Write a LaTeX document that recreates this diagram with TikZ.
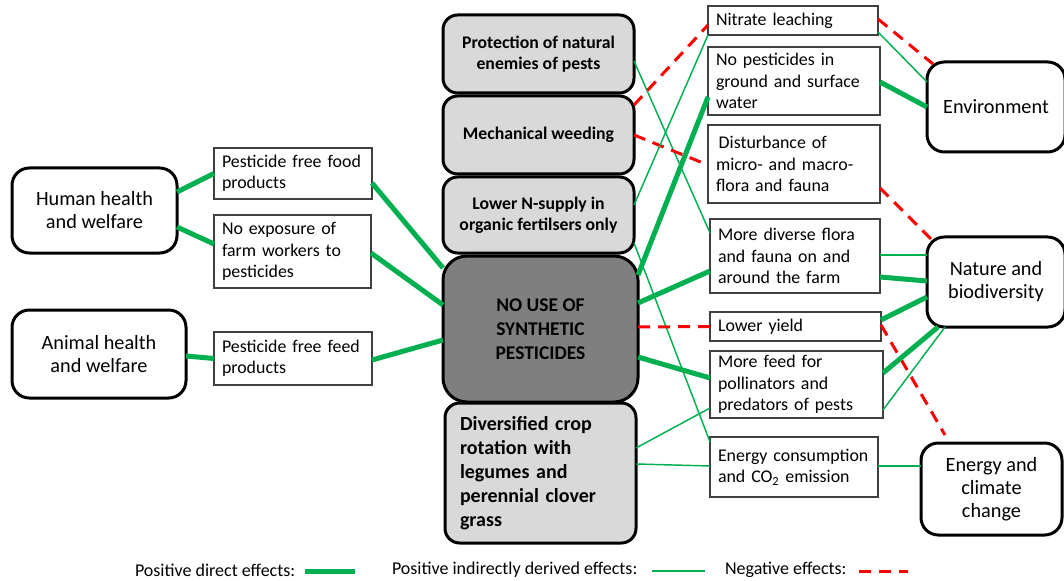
\documentclass[tikz,border=0pt]{standalone}
\usepackage{fontspec}
\setmainfont{Carlito}
\usetikzlibrary{calc}
\definecolor{grn}{HTML}{00B050}
\definecolor{lgray}{HTML}{D9D9D9}
\definecolor{dgray}{HTML}{7F7F7F}
\definecolor{bord}{HTML}{404040}
\begin{document}
\begin{tikzpicture}[x=0.75pt,y=-0.75pt,
  outer sep=0pt,
  rbox/.style={draw=black, line width=2.25pt, rounded corners=13pt, fill=white, align=center, inner sep=0pt,
    font=\fontsize{15.2}{17.25}\selectfont},
  mbox/.style={draw=black, line width=2.25pt, rounded corners=11pt, fill=lgray, align=center, inner sep=0pt,
    font=\fontsize{13.3}{15.75}\selectfont\bfseries},
  sbox/.style={draw=bord, line width=1pt, fill=white, align=left, inner xsep=6pt, inner ysep=0pt,
    font=\fontsize{13.4}{16}\selectfont},
  direct/.style={draw=grn, line width=3.75pt},
  indirect/.style={draw=grn, line width=1.1pt},
  neg/.style={draw=red, line width=2.25pt, dash pattern=on 9pt off 6pt},
  legtext/.style={anchor=west, inner sep=0pt, font=\fontsize{13.5}{15}\selectfont}
]
\useasboundingbox (0,0) rectangle (1064,581);

% far left
\node[rbox, minimum width=123.75pt, minimum height=63.75pt] (human) at (94.5,210.5) {Human health\\and welfare};
\node[rbox, minimum width=130.5pt, minimum height=66pt] (animal) at (99,354) {Animal health\\and welfare};

% left boxes
\node[sbox, text width=106.5pt, minimum height=38.25pt] (food) at (293,173.5) {Pesticide free food\\products};
\node[sbox, text width=105.75pt, minimum height=54.75pt] (expo) at (292.5,251.5) {No exposure of\\farm workers to\\pesticides};
\node[sbox, text width=106.5pt, minimum height=39.75pt] (feed) at (293,358.5) {Pesticide free feed\\products};

% middle column
\node[mbox, minimum width=143.25pt, minimum height=58.5pt] (prot) at (538.5,54) {Protection of natural\\enemies of pests};
\node[mbox, minimum width=143.25pt, minimum height=58.5pt] (mech) at (538.5,135) {Mechanical weeding};
\node[mbox, minimum width=143.25pt, minimum height=57pt] (lown) at (538.5,215) {Lower N-supply in\\organic fertilsers only};
\node[mbox, fill=dgray, rounded corners=18pt, minimum width=146.25pt, minimum height=109.5pt,
  font=\fontsize{14.6}{18}\selectfont\bfseries] (nouse) at (540.5,329) {NO USE OF\\SYNTHETIC\\PESTICIDES};
\node[mbox, align=left, text width=120.75pt, inner xsep=11.25pt, minimum height=105pt,
  font=\fontsize{15}{18}\selectfont\bfseries] (divers) at (540.5,473) {Diversified crop\\rotation with\\legumes and\\perennial clover\\grass};

% right boxes
\node[sbox, text width=115.5pt, minimum height=21.75pt] (nitr) at (793,20.5) {Nitrate leaching};
\node[sbox, text width=117pt, minimum height=51pt] (nopest) at (794,81) {No pesticides in\\ground and surface\\water};
\node[sbox, text width=117pt, minimum height=58.5pt] (dist) at (794,164) {\hspace{2pt}Disturbance of\\micro- and macro-\\flora and fauna};
\node[sbox, text width=115.5pt, minimum height=55.5pt] (flora) at (795,256) {More diverse flora\\and fauna on and\\around the farm};
\node[sbox, text width=116.25pt, minimum height=21.75pt] (yield) at (795.5,326.5) {Lower yield};
\node[sbox, text width=117.75pt, minimum height=50.25pt] (feedp) at (796.5,384.5) {More feed for\\pollinators and\\predators of pests};
\node[sbox, text width=114pt, minimum height=45pt] (energy) at (794,467) {Energy consumption\\and CO\textsubscript{2} emission};

% far right
\node[rbox, minimum width=103.5pt, minimum height=67.5pt] (env) at (996,107) {Environment};
\node[rbox, minimum width=103.5pt, minimum height=67.5pt] (nat) at (996,282) {Nature and\\biodiversity};
\node[rbox, minimum width=105.75pt, minimum height=69pt] (clim) at (991.5,489) {Energy and\\climate\\change};

% left connectors
\draw[direct] ($(human.east)+(0,-18.5)$) -- (food.west);
\draw[direct] ($(human.east)+(0,16.5)$) -- ($(expo.west)+(0,-7.5)$);
\draw[direct] ($(animal.east)+(0,2)$) -- (feed.west);
\draw[direct] ($(food.east)+(0,9.5)$) -- ($(nouse.west)+(0,-61)$);
\draw[direct] ($(expo.east)+(0,1.5)$) -- ($(nouse.west)+(0,-24)$);
\draw[direct] ($(feed.east)+(0,1.5)$) -- ($(nouse.west)+(0,11)$);

% middle to right
\draw[indirect] ($(prot.east)+(0,7)$) -- ($(flora.west)+(0,-23)$);
\draw[neg] ($(mech.east)+(0,-30)$) -- ($(nitr.west)+(0,4.5)$);
\draw[neg] (mech.east) -- ($(dist.west)+(0,1)$);
\draw[indirect] ($(lown.east)+(0,-10)$) -- (nitr.south west);
\draw[indirect] ($(lown.east)+(0,28)$) -- ($(energy.west)+(0,-25)$);
\draw[direct] ($(nouse.east)+(0,-54)$) -- ($(nopest.west)+(0,16)$);
\draw[direct] ($(nouse.east)+(0,-26)$) -- ($(flora.west)+(0,15)$);
\draw[neg] ($(nouse.east)+(0,-2)$) -- (yield.west);
\draw[direct] ($(nouse.east)+(0,28)$) -- ($(feedp.west)+(0,-6.5)$);
\draw[indirect] ($(divers.east)+(0,-25)$) -- ($(feedp.west)+(0,23.5)$);
\draw[indirect] ($(divers.east)+(0,-9)$) -- ($(energy.west)+(0,-1)$);

% right to far right
\draw[neg] ($(nitr.east)+(0,-1.5)$) -- ($(env.north west)+(6,2)$);
\draw[indirect] ($(nitr.east)+(0,11.5)$) -- ($(env.west)+(0,-25)$);
\draw[direct] ($(nopest.east)+(0,1)$) -- (env.west);
\draw[neg] ($(dist.east)+(0,24)$) -- ($(nat.north west)+(4,2)$);
\draw[indirect] ($(flora.east)+(0,-1)$) -- ($(nat.west)+(0,-27)$);
\draw[direct] ($(flora.east)+(0,21)$) -- ($(nat.west)+(0,-1)$);
\draw[direct] ($(yield.east)+(0,-6.5)$) -- ($(nat.west)+(0,15)$);
\draw[neg] ($(yield.east)+(0,-1.5)$) -- ($(clim.north west)+(24,-8)$);
\draw[direct] ($(feedp.east)+(0,-11.5)$) -- ($(nat.south west)+(11,0)$);
\draw[indirect] ($(feedp.east)+(0,25.5)$) -- ($(nat.south west)+(18,0)$);
\draw[indirect] ($(energy.east)+(0,-1)$) -- ($(clim.west)+(0,-23)$);

% legend
\node[legtext] (leg1) at (135,570) {Positive direct effects:};
\coordinate (leg1a) at (305,571);
\coordinate (leg1b) at (355,571);
\draw[direct] (leg1a) -- (leg1b);
\node[legtext] (leg2) at (392,570) {Positive indirectly derived effects:};
\coordinate (leg2a) at (652,571);
\coordinate (leg2b) at (705,571);
\draw[indirect] (leg2a) -- (leg2b);
\node[legtext] (leg3) at (725,570) {Negative effects:};
\coordinate (leg3a) at (859,571);
\coordinate (leg3b) at (908,571);
\draw[neg] (leg3a) -- (leg3b);
\end{tikzpicture}
\end{document}
